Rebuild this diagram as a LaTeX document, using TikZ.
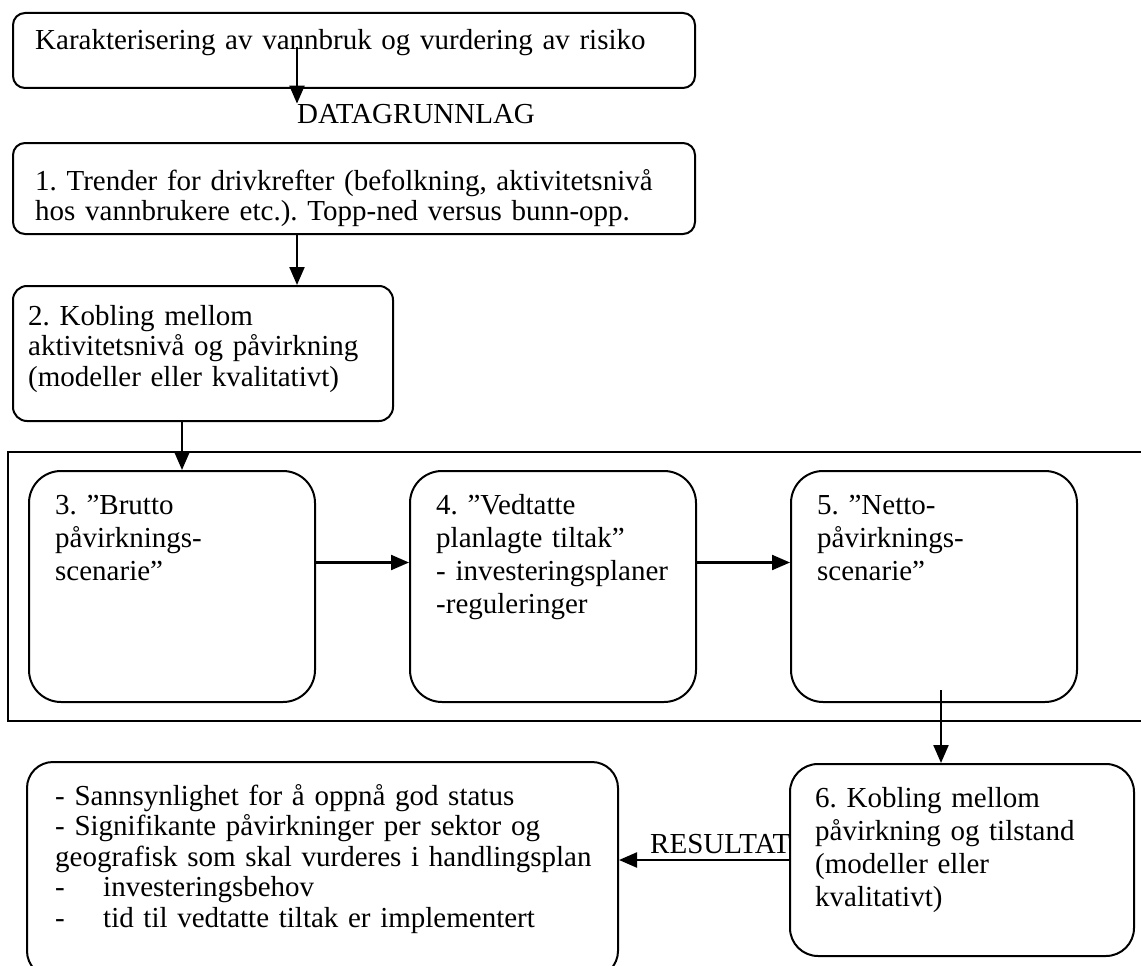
\documentclass[tikz,border=0pt]{standalone}
\usepackage{fontspec}
\setmainfont{Liberation Serif}
\frenchspacing
\usetikzlibrary{arrows.meta}
\tikzset{
  boks/.style={draw, line width=2pt, rounded corners=#1, anchor=north west, inner sep=0pt},
  tekst/.style={anchor=base west, inner sep=0pt, align=left, text width=#1},
  vid/.style={font=\fontsize{29pt}{33pt}\selectfont},
  pil/.style={line width=2.2pt, -{Triangle[length=18pt,width=15pt]}},
}
\begin{document}
\begin{tikzpicture}[x=1pt, y=-1pt, font=\fontsize{29pt}{30.5pt}\selectfont]
        \clip (0,0) rectangle (1141,966);
        % oeverste boksene
        \node[boks=12pt, minimum width=682pt, minimum height=75pt] (karakter) at (12,12) {};
        \node[tekst=650pt] (karaktertxt) at (35,50) {Karakterisering av vannbruk og vurdering av risiko};
        \node[anchor=base west, inner sep=0pt] (datagrunnlag) at (297,123) {DATAGRUNNLAG};
        \coordinate (startdata) at (297,47);
        \draw[pil] (startdata) -- (datagrunnlag.north west);
        \node[boks=12pt, minimum width=682pt, minimum height=91pt] (trender) at (12,142) {};
        \node[tekst=650pt] (trendertxt) at (35,190) {1. Trender for drivkrefter (befolkning, aktivitetsnivå\\
              hos vannbrukere etc.). Topp-ned versus bunn-opp.};
        \node[boks=14pt, minimum width=380pt, minimum height=135pt] (kobling) at (12,285) {};
        \node[tekst=360pt] (koblingtxt) at (28,325) {2. Kobling mellom\\aktivitetsnivå og påvirkning\\(modeller eller kvalitativt)};
        \draw[pil] ([xshift=-57pt]trender.south) -- ([xshift=94pt]kobling.north);
        % rammen rundt scenariene
        \draw[line width=2pt] (1150,452) -- (8,452) -- (8,721) -- (1150,721);
        \foreach \navn/\x/\txt in {brutto/28/{3. ”Brutto\\påvirknings-\\scenarie”},
                                   vedtatte/409/{4. ”Vedtatte\\planlagte tiltak”\\- investeringsplaner\\-reguleringer},
                                   netto/790/{5. ”Netto-\\påvirknings-\\scenarie”}} {
            \node[boks=32pt, minimum width=286pt, minimum height=231pt] (\navn) at (\x,470) {};
            \node[tekst=260pt, vid] (\navn txt) at (\x+27,514) {\txt};
        }
        \draw[pil] ([xshift=-21pt]kobling.south) -- ([xshift=10pt]brutto.north);
        \draw[pil] ([yshift=24pt]brutto.east) -- ([yshift=24pt]vedtatte.west);
        \draw[pil] ([yshift=24pt]vedtatte.east) -- ([yshift=24pt]netto.west);
        % resultat
        \node[anchor=base west, inner sep=0pt] (resultatlbl) at (650,853) {RESULTAT};
        \node[boks=28pt, fill=white, minimum width=344pt, minimum height=192pt] (tilstand) at (789,763) {};
        \node[tekst=310pt, vid] (tilstandtxt) at (815,807) {6. Kobling mellom\\påvirkning og tilstand\\(modeller eller\\kvalitativt)};
        \coordinate (startnetto) at (941,690);
        \draw[pil] (startnetto) -- (startnetto |- tilstand.north);
        \node[boks=26pt, minimum width=591pt, minimum height=215pt] (resultat) at (26,761) {};
        \node[tekst=560pt] (resultattxt) at (55,805) {- Sannsynlighet for å oppnå god status\\
              - Signifikante påvirkninger per sektor og\\
              geografisk som skal vurderes i handlingsplan\\
              \makebox[48pt][l]{-}investeringsbehov\\
              \makebox[48pt][l]{-}tid til vedtatte tiltak er implementert};
        \draw[pil] (tilstand.west) -- (tilstand.west -| resultat.east);
\end{tikzpicture}
\end{document}
